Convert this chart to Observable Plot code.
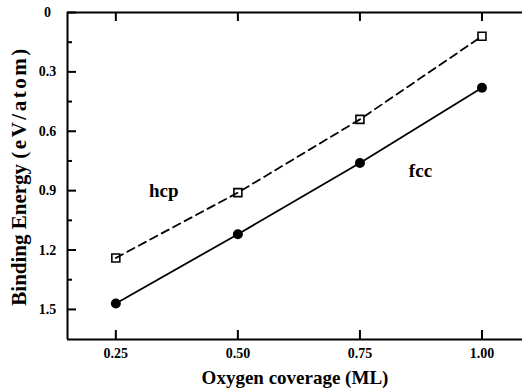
<!DOCTYPE html>
<html>
<head>
<meta charset="utf-8">
<script src="https://cdn.jsdelivr.net/npm/d3@7"></script>
<script src="https://cdn.jsdelivr.net/npm/@observablehq/plot@0.6"></script>
<style>
  html, body { margin: 0; padding: 0; background: #fff; }
  #chart svg { display: block; }
  #chart svg text { font-family: 'Liberation Serif', 'Times New Roman', serif; }
</style>
</head>
<body>
<div id="chart"></div>
<script>
// Oxygen adsorption: binding energy per atom vs. coverage for fcc and hcp sites
const coverage = [0.25, 0.50, 0.75, 1.00];
const fccEnergy = [1.47, 1.12, 0.76, 0.38];
const hcpEnergy = [1.24, 0.91, 0.54, 0.12];

const xTicks = [0.25, 0.50, 0.75, 1.00];
const yTicks = [0, 0.3, 0.6, 0.9, 1.2, 1.5];
const yMinorTicks = [0.15, 0.45, 0.75, 1.05, 1.35];

const xLabel = "Oxygen coverage (ML)";
const yLabelMain = "Binding Energy";
const yLabelUnit = "(eV/atom)";
const yLabel = yLabelMain + " " + yLabelUnit;

const fcc = coverage.map((c, i) => ({coverage: c, energy: fccEnergy[i]}));
const hcp = coverage.map((c, i) => ({coverage: c, energy: hcpEnergy[i]}));

const W = 522, H = 389;
const mL = 67, mR = 0, mT = 12, mB = 50;
const innerW = W - mL - mR, innerH = H - mT - mB;
const xDomain = [0.151, 1.083];
const yDomain = [0, 1.652];
const font = "'Liberation Serif', 'Times New Roman', serif";

const chart = Plot.plot({
  width: W,
  height: H,
  marginLeft: mL,
  marginRight: mR,
  marginTop: mT,
  marginBottom: mB,
  style: {fontFamily: font, background: "#fff", color: "#000"},
  x: {domain: xDomain},
  y: {domain: yDomain, reverse: true},
  marks: [
    // frame: left, top and bottom edges
    Plot.ruleX([xDomain[0]], {stroke: "#000", strokeWidth: 2}),
    Plot.ruleY([yDomain[0]], {stroke: "#000", strokeWidth: 2}),
    Plot.ruleY([yDomain[1]], {stroke: "#000", strokeWidth: 2}),
    // inward ticks
    Plot.tickY(yTicks, {y: d => d, insetRight: innerW - 9, stroke: "#000", strokeWidth: 2}),
    Plot.tickY(yMinorTicks, {y: d => d, insetRight: innerW - 5, stroke: "#000", strokeWidth: 2}),
    Plot.tickX(xTicks, {x: d => d, insetTop: innerH - 9, stroke: "#000", strokeWidth: 2}),
    Plot.tickX(xTicks, {x: d => d, insetBottom: innerH - 9, stroke: "#000", strokeWidth: 2}),
    // tick labels
    Plot.axisY({ticks: yTicks, tickSize: 0, tickPadding: 20, textAnchor: "middle",
      tickFormat: d => d === 0 ? "0" : d.toFixed(1), fontFamily: font, fontSize: 14, fontWeight: "bold", label: null}),
    Plot.axisX({ticks: xTicks, tickSize: 0, tickPadding: 9,
      tickFormat: d => d.toFixed(2), fontFamily: font, fontSize: 14, fontWeight: "bold", label: null}),
    // axis titles
    Plot.text([xLabel], {frameAnchor: "bottom", dy: 44, text: d => d, fontFamily: font, fontSize: 19, fontWeight: "bold"}),
    Plot.text([yLabel], {frameAnchor: "left", textAnchor: "middle", dx: -48, dy: 0, rotate: -90,
      text: d => d, fontFamily: font, fontSize: 21, fontWeight: "bold"}),
    // series
    Plot.line(hcp, {x: "coverage", y: "energy", stroke: "#000", strokeWidth: 1.8, strokeDasharray: "8,5"}),
    Plot.line(fcc, {x: "coverage", y: "energy", stroke: "#000", strokeWidth: 1.8}),
    Plot.dot(hcp, {x: "coverage", y: "energy", symbol: "square", r: 4.5, fill: "none", stroke: "#000", strokeWidth: 1.6}),
    Plot.dot(fcc, {x: "coverage", y: "energy", r: 5, fill: "#000", stroke: "none"}),
    // site labels
    Plot.text(["hcp"], {x: 0.348, y: 0.90, text: d => d, fontFamily: font, fontSize: 19, fontWeight: "bold"}),
    Plot.text(["fcc"], {x: 0.874, y: 0.80, text: d => d, fontFamily: font, fontSize: 19, fontWeight: "bold"})
  ]
});

// the unit part of the y title is set a little looser
d3.select(chart).selectAll("text")
  .filter(function() { return this.textContent === yLabel; })
  .each(function() {
    const t = d3.select(this);
    t.text(null);
    t.append("tspan").text(yLabelMain + " ");
    t.append("tspan").attr("letter-spacing", 2.5).text(yLabelUnit);
  });

document.getElementById("chart").appendChild(chart);
</script>
</body>
</html>
